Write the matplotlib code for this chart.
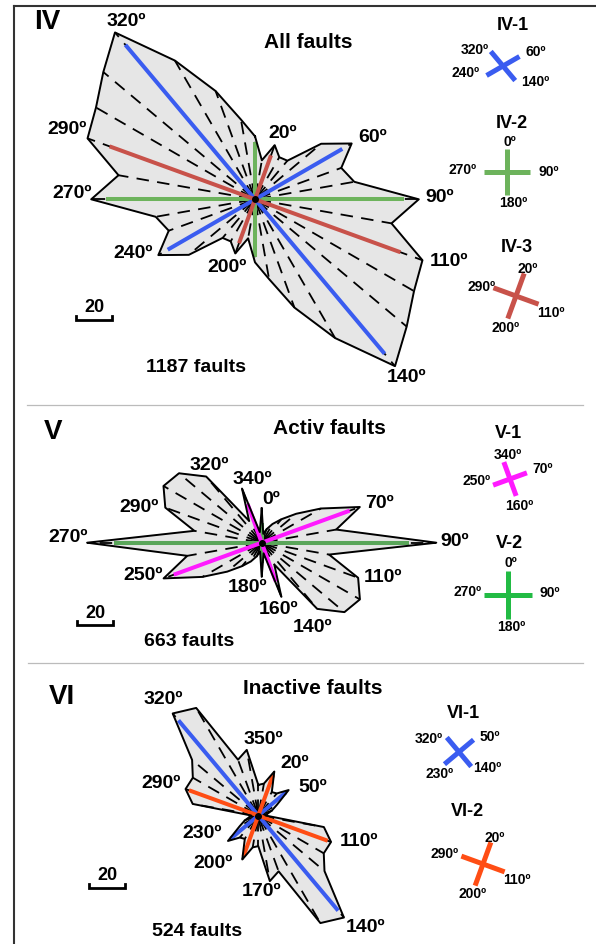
import numpy as np
import matplotlib
matplotlib.use('Agg')
import matplotlib.pyplot as plt

W, H = 596, 944
DPI = 100
plt.rcParams['font.family'] = ['Liberation Sans', 'DejaVu Sans']
plt.rcParams['font.weight'] = 'bold'
plt.rcParams['lines.scale_dashes'] = False

# ---------------- data ----------------
bin_dirs = list(range(0, 180, 10))          # azimuths 0..170 (bidirectional rose)
iv_counts = [35, 22, 32, 27, 28, 48, 62, 51, 56, 91, 77, 99, 102, 110, 121, 89, 64, 45]
v_counts = [19, 5, 8, 12, 17, 25, 38, 58, 42, 97, 38, 57, 63, 60, 48, 14, 32, 6]
vi_counts = [17, 18, 26, 15, 16, 22, 12, 8, 5, 4, 37, 43, 42, 48, 74, 69, 33, 37]

# fault-system directions (azimuth pairs) and lengths drawn in the rose
iv1_dirs, iv1_len = [320, 60], [112, 56]
iv2_dirs, iv2_len = [0, 90], [32, 83]
iv3_dirs, iv3_len = [20, 110], [26, 86]
v1_dirs, v1_len = [340, 70], [23, 52]
v2_dirs, v2_len = [0, 90], [11, 82]
vi1_dirs, vi1_len = [320, 50], [69, 20]
vi2_dirs, vi2_len = [20, 110], [24, 41]

n_faults = [1187, 663, 524]
scale_value = 20
titles = ['All faults', 'Activ faults', 'Inactive faults']
panel_ids = ['IV', 'V', 'VI']

BLUE = '#3a5cf0'
GREEN = '#6db35c'
RED = '#c8524a'
MAGENTA = '#ff1aff'
GREEN2 = '#5aa65a'
GREEN3 = '#22bb44'
ORANGE = '#ff4d14'

PX_PER_UNIT = 1.8
RMAX = 130

fig = plt.figure(figsize=(W / DPI, H / DPI), dpi=DPI)
ov = fig.add_axes([0, 0, 1, 1])
ov.set_xlim(0, W)
ov.set_ylim(H, 0)
ov.axis('off')


def polar_ax(cx, cy, rad_px, rmax):
    ax = fig.add_axes([(cx - rad_px) / W, 1 - (cy + rad_px) / H, 2 * rad_px / W, 2 * rad_px / H],
                      projection='polar')
    ax.set_theta_zero_location('N')
    ax.set_theta_direction(-1)
    ax.set_ylim(0, rmax)
    ax.axis('off')
    ax.patch.set_alpha(0)
    return ax


def rose(cx, cy, counts, systems):
    ax = polar_ax(cx, cy, RMAX * PX_PER_UNIT, RMAX)
    dirs = np.array(bin_dirs + [d + 180 for d in bin_dirs])
    r = np.array(counts + counts, dtype=float)
    th = np.deg2rad(dirs)
    thc = np.append(th, th[0])
    rc = np.append(r, r[0])
    ax.fill(thc, rc, color='#e6e6e6', zorder=1)
    for t, rv in zip(th, r):
        if rv > 8:
            ax.plot([t, t], [2, rv], color='black', lw=1.3, dashes=(9, 6), zorder=2)
        else:
            ax.plot([t, t], [0, rv], color='black', lw=1.2, zorder=2)
    for sdirs, slen, col in systems:
        for d, L in zip(sdirs, slen):
            for dd in (d, d + 180):
                ax.plot([np.deg2rad(dd)] * 2, [0, L], color=col, lw=2.9,
                        solid_capstyle='butt', zorder=3)
    ax.plot(thc, rc, color='black', lw=1.4, zorder=4)
    ax.plot([0], [0], 'o', color='black', ms=4, zorder=5)
    return ax


def cross(cx, cy, dirs, col, half=22):
    ax = polar_ax(cx, cy, 30, 1.0)
    for d in dirs:
        ax.plot([np.deg2rad(d), np.deg2rad(d + 180)], [half / 30, half / 30],
                color=col, lw=3.6, solid_capstyle='butt')


def txt(x, y, s, size=14, **kw):
    ov.text(x, y, s, fontsize=size, fontweight='bold', ha='center', va='center', **kw)


def deg(x, y, d, size=14):
    txt(x, y, f'{d}º', size)


# ---------------- frame ----------------
ov.plot([13.5, 13.5], [6, H], color='#333333', lw=1.5)
ov.plot([13.5, W], [6, 6], color='#333333', lw=1.5)
ov.plot([27, 583], [405, 405], color='#bbbbbb', lw=0.9)
ov.plot([28, 583], [663, 663], color='#bbbbbb', lw=0.9)

# ---------------- Panel IV ----------------
rose(255, 199.3, iv_counts, [(iv2_dirs, iv2_len, GREEN), (iv1_dirs, iv1_len, BLUE),
                             (iv3_dirs, iv3_len, RED)])
txt(47, 22, panel_ids[0], 20)
txt(308, 43, titles[0], 15)
for (x, y, d) in [(126, 22, 320), (67, 130, 290), (72, 193, 270), (133, 254, 240),
                  (227, 268, 200), (283, 133, 20), (373, 137, 60), (440, 197, 90),
                  (449, 261, 110), (407, 378, 140)]:
    deg(x, y, d)
txt(196, 367, f'{n_faults[0]} faults', 14)

# ---------------- Panel V ----------------
rose(261.7, 542.7, v_counts, [(v2_dirs, v2_len, GREEN2), (v1_dirs, v1_len, MAGENTA)])
txt(53, 432, panel_ids[1], 20)
txt(329, 428, titles[1], 15)
for (x, y, d) in [(209, 465, 320), (252, 480, 340), (271, 499, 0), (139, 508, 290),
                  (380, 504, 70), (68, 538, 270), (455, 542, 90), (143, 575, 250),
                  (383, 577, 110), (248, 588, 180), (279, 609, 160), (313, 627, 140)]:
    deg(x, y, d)
txt(189, 641, f'{n_faults[1]} faults', 14)

# ---------------- Panel VI ----------------
rose(258.3, 815.5, vi_counts, [(vi1_dirs, vi1_len, BLUE), (vi2_dirs, vi2_len, ORANGE)])
txt(62, 697, panel_ids[2], 20)
txt(313, 688, titles[2], 15)
for (x, y, d) in [(163, 700, 320), (263, 739, 350), (295, 763, 20), (161, 784, 290),
                  (313, 787, 50), (202, 833, 230), (359, 841, 110), (213, 863, 200),
                  (262, 892, 170), (366, 927, 140)]:
    deg(x, y, d)
txt(197, 932, f'{n_faults[2]} faults', 14)

# ---------------- scale bars ----------------
for (x0, yb, yt) in [(76, 320, 308), (77, 625, 613), (89, 888, 876)]:
    L = scale_value * PX_PER_UNIT
    ov.plot([x0, x0, x0 + L, x0 + L], [yb - 4, yb, yb, yb - 4], color='black', lw=2.0,
            solid_joinstyle='miter')
    txt(x0 + L / 2, yt, str(scale_value), 13)

# ---------------- legends ----------------
txt(513, 25, 'IV-1', 13)
cross(503, 66, iv1_dirs, BLUE, 19)
for (x, y, d) in [(475, 50, 320), (536, 52, 60), (466, 73, 240), (535, 82, 140)]:
    deg(x, y, d, 10)
txt(512, 123, 'IV-2', 13)
cross(507, 172, iv2_dirs, GREEN, 23)
for (x, y, d) in [(510, 142, 0), (463, 170, 270), (549, 172, 90), (513, 203, 180)]:
    deg(x, y, d, 10)
txt(517, 247, 'IV-3', 13)
cross(516, 296, iv3_dirs, RED, 24)
for (x, y, d) in [(528, 269, 20), (482, 287, 290), (551, 313, 110), (506, 328, 200)]:
    deg(x, y, d, 10)

txt(508, 433, 'V-1', 13)
cross(510, 479, v1_dirs, MAGENTA, 18)
for (x, y, d) in [(508, 455, 340), (543, 469, 70), (477, 481, 250), (519, 506, 160)]:
    deg(x, y, d, 10)
txt(509, 543, 'V-2', 13)
cross(508, 595, v2_dirs, GREEN3, 24)
for (x, y, d) in [(511, 563, 0), (468, 592, 270), (550, 593, 90), (511, 627, 180)]:
    deg(x, y, d, 10)

txt(463, 713, 'VI-1', 13)
cross(459, 752, vi1_dirs, BLUE, 19)
for (x, y, d) in [(429, 739, 320), (490, 737, 50), (440, 774, 230), (487, 768, 140)]:
    deg(x, y, d, 10)
txt(467, 812, 'VI-2', 13)
cross(483, 864, vi2_dirs, ORANGE, 23)
for (x, y, d) in [(495, 838, 20), (445, 854, 290), (517, 880, 110), (473, 894, 200)]:
    deg(x, y, d, 10)

fig.savefig('out.png', dpi=DPI)
